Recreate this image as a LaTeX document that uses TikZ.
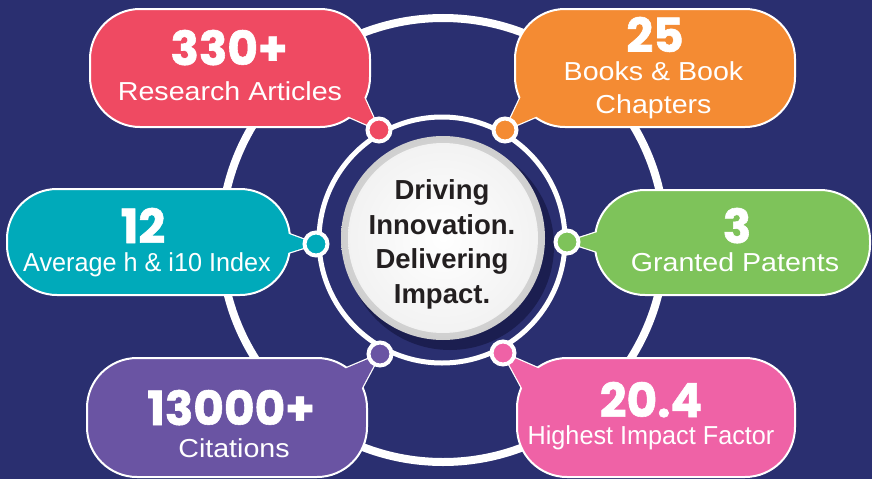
\documentclass[tikz,border=0pt]{standalone}
\usepackage{fontspec}
\setmainfont{Liberation Sans}
\newfontfamily\numfont[BoldFeatures={FakeBold=1.2}]{Poppins}
\newfontfamily\lblfont[FakeStretch=1.1]{Liberation Sans}
\newfontfamily\lblnarrow[FakeStretch=0.97]{Liberation Sans}
\usetikzlibrary{positioning}

\definecolor{cnavy}{RGB}{42,47,112}
\definecolor{cshadow}{RGB}{27,30,80}
\definecolor{ctext}{RGB}{35,31,32}
\definecolor{cart}{RGB}{239,74,98}
\definecolor{cbook}{RGB}{244,139,51}
\definecolor{cidx}{RGB}{0,170,186}
\definecolor{cpat}{RGB}{126,195,90}
\definecolor{ccit}{RGB}{106,84,163}
\definecolor{cif}{RGB}{239,98,166}

\begin{document}
\begin{tikzpicture}[x=1pt, y=-1pt,
    bubble/.style={draw=white, line width=2pt, rounded corners=50pt, inner sep=0pt},
    tail/.style={draw=white, line width=2.5pt, line join=round},
    dot/.style={circle, draw=white, line width=4pt, minimum size=23pt, inner sep=0pt},
    num/.style={text=white, anchor=base, inner sep=0pt, font=\numfont\bfseries\fontsize{47}{50}\selectfont},
    lbl/.style={text=white, anchor=base, inner sep=0pt, font=\lblfont\fontsize{26}{33}\selectfont},
    narrow/.style={font=\lblnarrow\fontsize{26}{33}\selectfont}]
    \useasboundingbox (0,0) rectangle (872,479);
    \fill[cnavy] (0,0) rectangle (872,479);
    \draw[white, line width=8pt] (443,240) circle (222pt);

    \coordinate (artpt) at (379,130);
    \coordinate (bookpt) at (505,130);
    \coordinate (idxpt) at (316,244);
    \coordinate (patpt) at (567,242);
    \coordinate (citpt) at (380,354);
    \coordinate (ifpt) at (503,353);

    \coordinate (arta) at (359,86);   \coordinate (artb) at (338,112);
    \coordinate (booka) at (526,86);  \coordinate (bookb) at (547,112);
    \coordinate (idxa) at (278,230);  \coordinate (idxb) at (278,256);
    \coordinate (pata) at (607,229);  \coordinate (patb) at (607,255);
    \coordinate (cita) at (356,399);  \coordinate (citb) at (335,373);
    \coordinate (ifa) at (528,399);   \coordinate (ifb) at (549,373);

    \draw[tail, fill=cart] (arta) -- (artpt) -- (artb) -- cycle;
    \draw[tail, fill=cbook] (booka) -- (bookpt) -- (bookb) -- cycle;
    \draw[tail, fill=cidx] (idxa) -- (idxpt) -- (idxb) -- cycle;
    \draw[tail, fill=cpat] (pata) -- (patpt) -- (patb) -- cycle;
    \draw[tail, fill=ccit] (cita) -- (citpt) -- (citb) -- cycle;
    \draw[tail, fill=cif] (ifa) -- (ifpt) -- (ifb) -- cycle;

    \node[bubble, fill=cart, minimum width=280pt, minimum height=118pt] (artbub) at (230,68) {};
    \node[bubble, fill=cbook, minimum width=280pt, minimum height=118pt] (bookbub) at (655,68) {};
    \node[bubble, fill=cidx, minimum width=283pt, minimum height=106pt] (idxbub) at (148.5,242) {};
    \node[bubble, fill=cpat, minimum width=275pt, minimum height=105pt] (patbub) at (732.5,242.5) {};
    \node[bubble, fill=ccit, minimum width=280pt, minimum height=119pt] (citbub) at (227,417.5) {};
    \node[bubble, fill=cif, minimum width=278pt, minimum height=119pt] (ifbub) at (656,417.5) {};

    \fill[cart] (arta) -- (artpt) -- (artb) -- cycle;
    \fill[cbook] (booka) -- (bookpt) -- (bookb) -- cycle;
    \fill[cidx] (idxa) -- (idxpt) -- (idxb) -- cycle;
    \fill[cpat] (pata) -- (patpt) -- (patb) -- cycle;
    \fill[ccit] (cita) -- (citpt) -- (citb) -- cycle;
    \fill[cif] (ifa) -- (ifpt) -- (ifb) -- cycle;

    \node[num] (artnum) at (229,65) {330+};
    \node[lbl] (artlbl) at (230,100) {Research Articles};
    \node[num] (booknum) at (655,52) {25};
    \node[lbl, anchor=center, align=center] (booklbl) at (653.5,90.5) {Books \& Book\\Chapters};
    \node[num] (idxnum) at (143,243) {12};
    \node[lbl, narrow] (idxlbl) at (147,271) {Average h \& i10 Index};
    \node[num] (patnum) at (737,243) {3};
    \node[lbl] (patlbl) at (735,271) {Granted Patents};
    \node[num] (citnum) at (231,425) {13000+};
    \node[lbl] (citlbl) at (234,457) {Citations};
    \node[num] (ifnum) at (651,417) {20.4};
    \node[lbl, narrow] (iflbl) at (651,444) {Highest Impact Factor};

    \draw[white, line width=5pt] (442,240) circle (123pt);
    \fill[cshadow] (450,246) circle (104pt);
    \shade[inner color=gray!5, outer color=gray!38] (443,238) circle (102pt);
    \shade[inner color=white, outer color=gray!10] (443,238) circle (95pt);
    \node[text=ctext, align=center, font=\bfseries\fontsize{27.5}{34.5}\selectfont] (motto) at (442,244.5) {Driving\\Innovation.\\Delivering\\Impact.};

    \node[dot, fill=cart] (artdot) at (artpt) {};
    \node[dot, fill=cbook] (bookdot) at (bookpt) {};
    \node[dot, fill=cidx] (idxdot) at (idxpt) {};
    \node[dot, fill=cpat] (patdot) at (patpt) {};
    \node[dot, fill=ccit] (citdot) at (citpt) {};
    \node[dot, fill=cif] (ifdot) at (ifpt) {};
\end{tikzpicture}
\end{document}
